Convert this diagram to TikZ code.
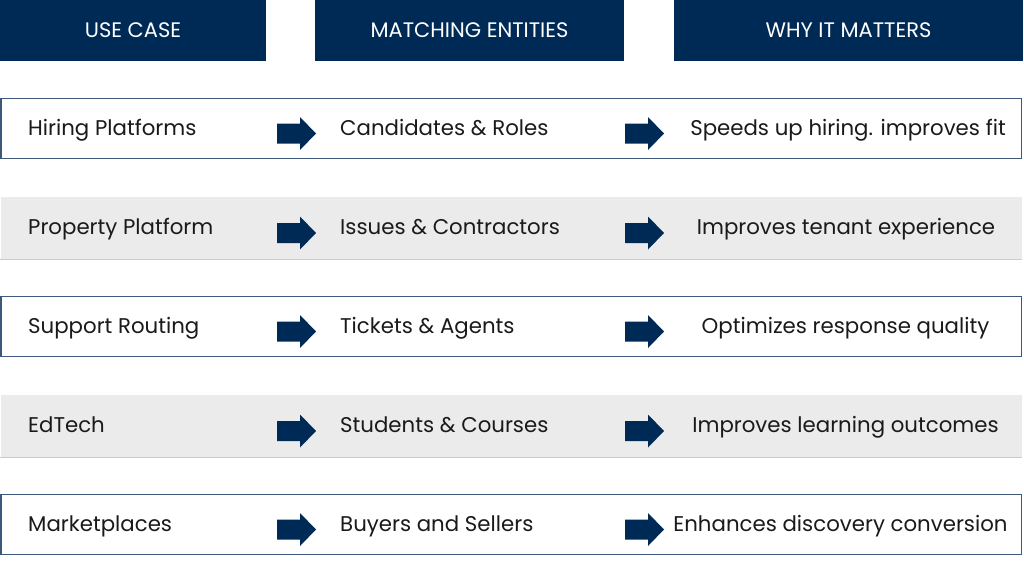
\documentclass[tikz,border=0pt]{standalone}
\usepackage{fontspec}
\setmainfont{Poppins}
\definecolor{navy}{RGB}{0,42,86}
\definecolor{rowline}{RGB}{62,88,124}
\definecolor{greyfill}{RGB}{235,235,235}
\definecolor{greyline}{RGB}{200,204,210}
\definecolor{txt}{RGB}{26,26,26}
\begin{document}
\begin{tikzpicture}[x=1pt,y=-1pt,
  header/.style={fill=navy,inner sep=0},
  headtext/.style={text=white,inner sep=0,anchor=base,font=\fontsize{21}{25}\selectfont},
  whiterow/.style={draw=rowline,line width=1.3pt,fill=white,inner sep=0},
  greyrow/.style={fill=greyfill,inner sep=0},
  celltext/.style={text=txt,inner sep=0,anchor=base west,font=\fontsize{21.3}{25}\selectfont},
  ctrtext/.style={celltext,anchor=base},
  blockarrow/.pic={\fill[navy] (0,-10) -- (23,-10) -- (23,-16.5) -- (39,0) -- (23,16.5) -- (23,10) -- (0,10) -- cycle;}
]
\useasboundingbox (0,0) rectangle (1024,576);
\fill[white] (0,0) rectangle (1024,576);
% headers
\node[header,minimum width=266,minimum height=61] (h1) at (133,30.5) {};
\node[header,minimum width=309,minimum height=61] (h2) at (469.5,30.5) {};
\node[header,minimum width=349,minimum height=61] (h3) at (848.5,30.5) {};
\node[headtext] (t1) at (133,37.3) {USE CASE};
\node[headtext] (t2) at (469.5,37.3) {MATCHING ENTITIES};
\node[headtext] (t3) at (848.5,37.3) {WHY IT MATTERS};
% rows
\node[whiterow,minimum width=1020.5,minimum height=60] (r1) at (511.25,128.5) {};
\node[greyrow,minimum width=1021,minimum height=62] (r2) at (511,228) {};
\draw[greyline,line width=1pt] (r2.south west) -- (r2.south east);
\node[whiterow,minimum width=1020.5,minimum height=60] (r3) at (511.25,326.5) {};
\node[greyrow,minimum width=1021,minimum height=62] (r4) at (511,426) {};
\draw[greyline,line width=1pt] (r4.south west) -- (r4.south east);
\node[whiterow,minimum width=1020.5,minimum height=60] (r5) at (511.25,524.5) {};
% arrows
\foreach \yy in {128.5,228,326.5,426,524.5}{
  \pic at (277,\yy+5) {blockarrow};
  \pic at (625,\yy+5) {blockarrow};
}
% texts
\node[celltext] (a1) at (28,135) {Hiring Platforms};
\node[celltext] (b1) at (340,135) {Candidates \& Roles};
\node[ctrtext] (c1) at (848,135) {Speeds up hiring. improves fit};
\node[celltext] (a2) at (28,234.5) {Property Platform};
\node[celltext] (b2) at (340,234.5) {Issues \& Contractors};
\node[ctrtext] (c2) at (846,234.5) {Improves tenant experience};
\node[celltext] (a3) at (28,333) {Support Routing};
\node[celltext] (b3) at (340,333) {Tickets \& Agents};
\node[ctrtext] (c3) at (845.5,333) {Optimizes response quality};
\node[celltext] (a4) at (28,432.5) {EdTech};
\node[celltext] (b4) at (340,432.5) {Students \& Courses};
\node[ctrtext] (c4) at (845.5,432.5) {Improves learning outcomes};
\node[celltext] (a5) at (28,531) {Marketplaces};
\node[celltext] (b5) at (340,531) {Buyers and Sellers};
\node[ctrtext] (c5) at (840.5,531) {Enhances discovery conversion};
\end{tikzpicture}
\end{document}
